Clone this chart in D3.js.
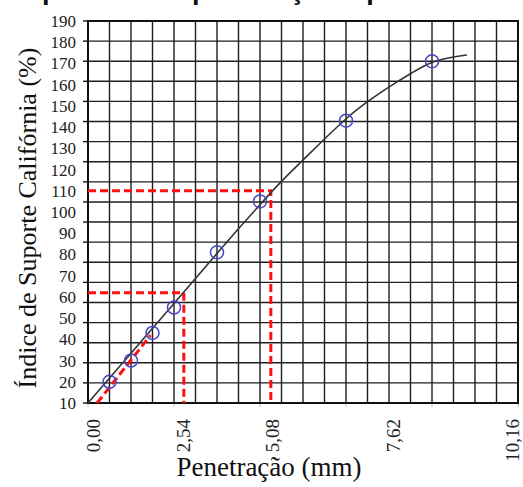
<!DOCTYPE html>
<html>
<head>
<meta charset="utf-8">
<script src="https://cdn.jsdelivr.net/npm/d3@7"></script>
<style>
  body { margin: 0; background: #fff; }
</style>
</head>
<body>
<div id="svg"></div>
<script>
/* Curva CBR - pressão x penetração */

// ensaio: penetração (mm) e índice lido (%)
let penetracao = [0.635, 1.27, 1.905, 2.54, 3.81, 5.08, 7.62, 10.16];
let indice = [20, 30, 43, 55, 81, 105, 143, 171];

// curva ajustada
let curvaX = [0, 1.24, 2.54, 4.49, 5.67, 6.35, 7.65, 8.33, 9.13, 10.19, 11.19];
let curvaY = [10, 32.9, 56.9, 92.9, 113.7, 124.5, 144.3, 152.8, 161.3, 170.7, 174.0];

// correção da origem e leituras em 2,54 / 5,08
let correcaoX = [0.27, 1.85];
let correcaoY = [10, 42];
let leituraX = [2.83, 5.40];
let leituraY = [62, 110];

let yTickLabels = [10, 20, 30, 40, 50, 60, 70, 80, 90, 100, 110, 120, 130, 140, 150, 160, 170, 180, 190];
let xTickLabels = ["0,00", "2,54", "5,08", "7,62", "10,16"];
let xTickValues = [0, 2.54, 5.08, 7.62, 10.16];

const serif = '"Liberation Serif", "Times New Roman", "DejaVu Serif", serif';

function makeGraph() {
  let w = 523, h = 487;
  let left = 88, right = 518, top = 21, bottom = 403;

  let svg = d3.select("#svg")
              .append('svg')
              .attr('width', w)
              .attr('height', h);

  let x = d3.scaleLinear().domain([0, 12.7]).range([left, right]);
  let y = d3.scaleLinear().domain([10, 190]).range([bottom, top]);
  // the grid has 19 rows, the labels only 18 steps
  let row = d3.scaleLinear().domain([0, 19]).range([bottom, top]);
  // labels under the axis were placed by hand in the original
  let xLab = d3.scaleLinear().domain(xTickValues).range([93, 183, 272, 393, 512]);

  // title (cut off at top of picture)
  svg.append('text')
     .attr('x', 42)
     .attr('y', -1.5)
     .attr('font-family', '"Liberation Sans", Arial, sans-serif')
     .attr('font-weight', 'bold')
     .attr('font-size', 27)
     .attr('fill', '#111')
     .text('pressão de penetração x profundidade');

  let g = svg.append('g');

  // grid
  g.selectAll('line.v')
   .data(d3.range(0, 21))
   .enter()
   .append('line')
   .attr('x1', d => x(d * 0.635))
   .attr('x2', d => x(d * 0.635))
   .attr('y1', top)
   .attr('y2', bottom)
   .attr('stroke', '#1e1e1e')
   .attr('stroke-width', 1.4);

  g.selectAll('line.h')
   .data(d3.range(0, 20))
   .enter()
   .append('line')
   .attr('x1', left)
   .attr('x2', right)
   .attr('y1', d => row(d))
   .attr('y2', d => row(d))
   .attr('stroke', '#1e1e1e')
   .attr('stroke-width', 1.4);

  g.append('rect')
   .attr('x', left)
   .attr('y', top)
   .attr('width', right - left)
   .attr('height', bottom - top)
   .attr('fill', 'none')
   .attr('stroke', '#111')
   .attr('stroke-width', 2);

  // y ticks and labels
  g.selectAll('line.yt')
   .data(d3.range(0, 20))
   .enter()
   .append('line')
   .attr('x1', left - 5)
   .attr('x2', left)
   .attr('y1', d => row(d))
   .attr('y2', d => row(d))
   .attr('stroke', '#111')
   .attr('stroke-width', 1.4);

  g.selectAll('text.yl')
   .data(yTickLabels)
   .enter()
   .append('text')
   .attr('x', 76)
   .attr('y', d => y(d))
   .attr('dy', '0.35em')
   .attr('text-anchor', 'end')
   .attr('font-family', serif)
   .attr('font-size', 17)
   .attr('fill', '#222')
   .text(d => d);

  // x ticks and labels
  g.selectAll('line.xt')
   .data(d3.range(0, 6))
   .enter()
   .append('line')
   .attr('x1', d => x(d * 2.54))
   .attr('x2', d => x(d * 2.54))
   .attr('y1', bottom + 1)
   .attr('y2', bottom + 4)
   .attr('stroke', '#bbb')
   .attr('stroke-width', 1);

  g.selectAll('text.xl')
   .data(xTickValues)
   .enter()
   .append('text')
   .attr('transform', d => `translate(${xLab(d)}, 419) rotate(-90)`)
   .attr('dy', '0.35em')
   .attr('text-anchor', 'end')
   .attr('font-family', serif)
   .attr('font-size', 19)
   .attr('fill', '#222')
   .text((d, i) => xTickLabels[i]);

  // red reading lines
  let red = g.append('g')
     .attr('fill', 'none')
     .attr('stroke', '#ff1010')
     .attr('stroke-width', 3)
     .attr('stroke-dasharray', '8,4');

  leituraX.forEach((lx, i) => {
    red.append('path')
       .attr('d', d3.line()([[x(0), y(leituraY[i])], [x(lx), y(leituraY[i])], [x(lx), bottom]]));
  });

  red.append('path')
     .attr('d', d3.line()(correcaoX.map((cx, i) => [x(cx), y(correcaoY[i])])));

  // fitted curve
  g.append('path')
   .datum(curvaX.map((cx, i) => [cx, curvaY[i]]))
   .attr('fill', 'none')
   .attr('stroke', '#333')
   .attr('stroke-width', 1.6)
   .attr('d', d3.line().x(d => x(d[0])).y(d => y(d[1])).curve(d3.curveCatmullRom));

  // points
  g.selectAll('circle')
   .data(penetracao)
   .enter()
   .append('circle')
   .attr('cx', d => x(d))
   .attr('cy', (d, i) => y(indice[i]))
   .attr('r', 6.5)
   .attr('fill', 'none')
   .attr('stroke', '#4646c8')
   .attr('stroke-width', 1.5);

  // axis titles
  svg.append('text')
     .attr('x', 269)
     .attr('y', 476)
     .attr('text-anchor', 'middle')
     .attr('font-family', serif)
     .attr('font-size', 27)
     .attr('fill', '#111')
     .text('Penetração (mm)');

  svg.append('text')
     .attr('transform', 'translate(27, 218) rotate(-90)')
     .attr('dy', '0.35em')
     .attr('text-anchor', 'middle')
     .attr('font-family', serif)
     .attr('font-size', 26)
     .attr('fill', '#111')
     .text('Índice de Suporte Califórnia (%)');
}

window.onload = function() {
  makeGraph();
};
</script>
</body>
</html>
